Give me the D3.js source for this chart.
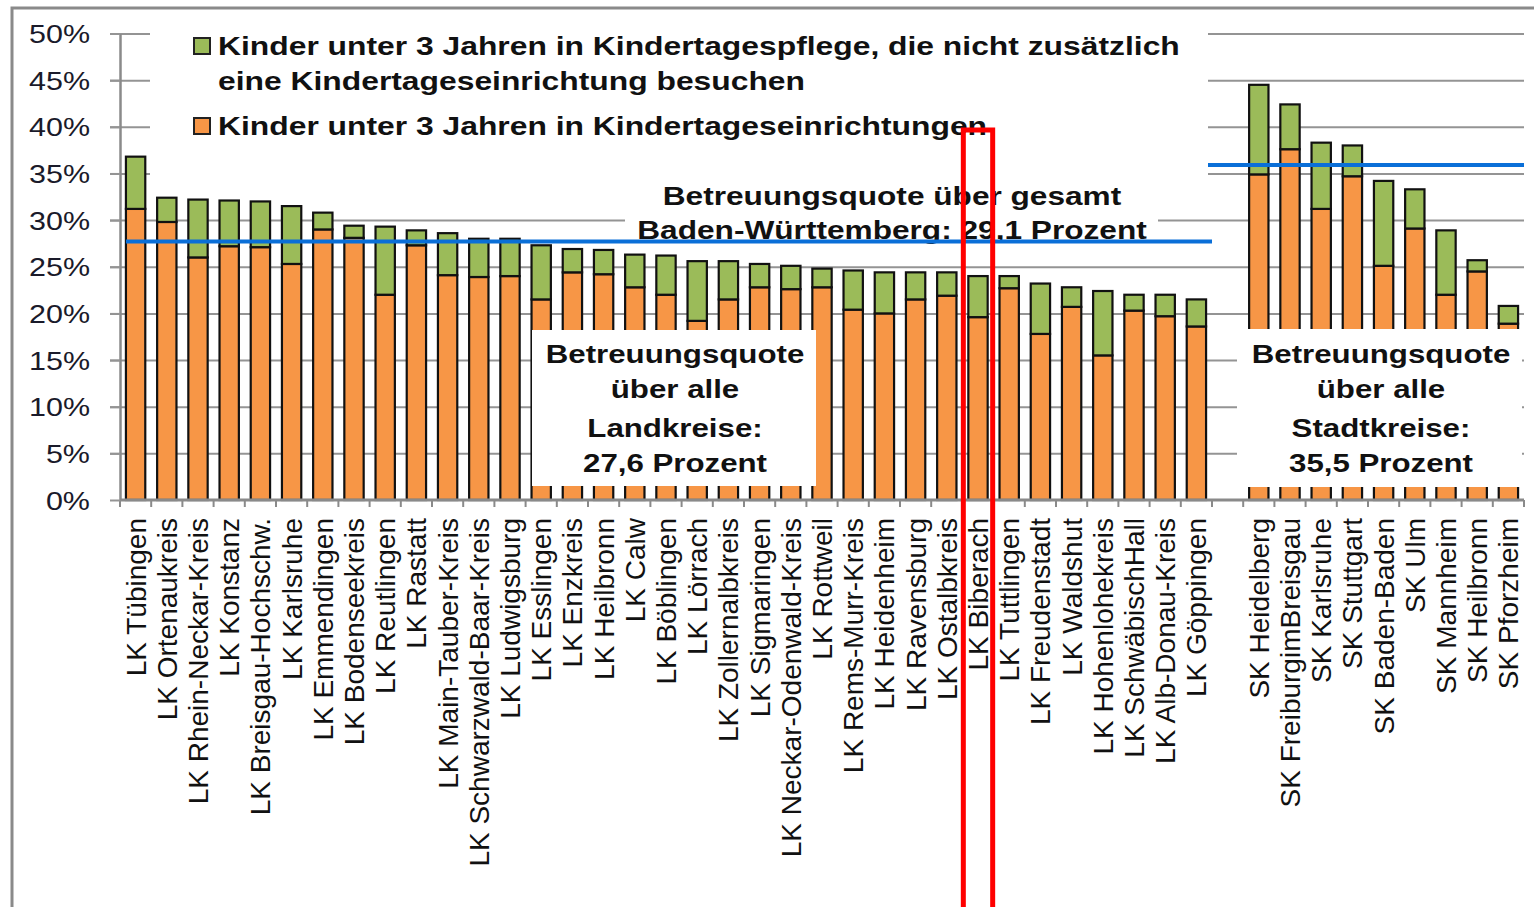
<!DOCTYPE html>
<html>
<head>
<meta charset="utf-8">
<script src="https://d3js.org/d3.v7.min.js"></script>
<style>
  body { margin: 0; background: #fff; }
  svg { display: block; font-family: "Liberation Sans", Arial, sans-serif; }
</style>
</head>
<body>
<svg id="chart" width="1534" height="907"></svg>
<script>
// Landkreise (LK) and Stadtkreise (SK)
var lkNames = ['LK Tübingen', 'LK Ortenaukreis', 'LK Rhein-Neckar-Kreis', 'LK Konstanz',
  'LK Breisgau-Hochschw.', 'LK Karlsruhe', 'LK Emmendingen', 'LK Bodenseekreis',
  'LK Reutlingen', 'LK Rastatt', 'LK Main-Tauber-Kreis', 'LK Schwarzwald-Baar-Kreis',
  'LK Ludwigsburg', 'LK Esslingen', 'LK Enzkreis', 'LK Heilbronn', 'LK Calw',
  'LK Böblingen', 'LK Lörrach', 'LK Zollernalbkreis', 'LK Sigmaringen',
  'LK Neckar-Odenwald-Kreis', 'LK Rottweil', 'LK Rems-Murr-Kreis', 'LK Heidenheim',
  'LK Ravensburg', 'LK Ostalbkreis', 'LK Biberach', 'LK Tuttlingen', 'LK Freudenstadt',
  'LK Waldshut', 'LK Hohenlohekreis', 'LK SchwäbischHall', 'LK Alb-Donau-Kreis',
  'LK Göppingen'];
var skNames = ['SK Heidelberg', 'SK FreiburgimBreisgau', 'SK Karlsruhe', 'SK Stuttgart',
  'SK Baden-Baden', 'SK Ulm', 'SK Mannheim', 'SK Heilbronn', 'SK Pforzheim'];

// Kinder unter 3 in Kindertageseinrichtungen (%)
var lkEinrichtung = [31.2, 29.8, 26.0, 27.2, 27.1, 25.3, 29.0, 28.1, 22.0, 27.3, 24.1, 23.9,
  24.0, 21.5, 24.4, 24.2, 22.8, 22.0, 19.2, 21.5, 22.8, 22.6, 22.8, 20.4, 20.0, 21.5, 21.9,
  19.6, 22.7, 17.8, 20.7, 15.5, 20.3, 19.7, 18.6];
// Kinder unter 3 nur in Kindertagespflege (%)
var lkPflege = [5.6, 2.6, 6.2, 4.9, 4.9, 6.2, 1.8, 1.3, 7.3, 1.6, 4.5, 4.1,
  4.0, 5.8, 2.5, 2.6, 3.5, 4.2, 6.4, 4.1, 2.5, 2.5, 2.0, 4.2, 4.4, 2.9, 2.5,
  4.4, 1.3, 5.4, 2.1, 6.9, 1.7, 2.3, 2.9];
var skEinrichtung = [34.9, 37.6, 31.2, 34.7, 25.1, 29.1, 22.0, 24.5, 18.9];
var skPflege = [9.6, 4.8, 7.1, 3.3, 9.1, 4.2, 6.9, 1.2, 1.9];

var yTicks = [0, 5, 10, 15, 20, 25, 30, 35, 40, 45, 50];
var legendLabels = [
  ['Kinder unter 3 Jahren in Kindertagespflege, die nicht zusätzlich',
   'eine Kindertageseinrichtung besuchen'],
  ['Kinder unter 3 Jahren in Kindertageseinrichtungen']
];
var gesamtLabel = ['Betreuungsquote über gesamt', 'Baden-Württemberg: 29,1 Prozent'];
var lkLabel = ['Betreuungsquote', 'über alle', 'Landkreise:', '27,6 Prozent'];
var skLabel = ['Betreuungsquote', 'über alle', 'Stadtkreise:', '35,5 Prozent'];
// drawn average lines (where the blue lines sit in the picture)
var lkAvgLine = 27.7;
var skAvgLine = 35.9;
var highlighted = 'LK Biberach';

var GAP = ' ';
var categories = lkNames.concat([GAP], skNames);

var rows = [];
lkNames.forEach(function (n, i) { rows.push({name: n, a: lkEinrichtung[i], b: lkPflege[i]}); });
skNames.forEach(function (n, i) { rows.push({name: n, a: skEinrichtung[i], b: skPflege[i]}); });

var colors = {orange: '#f79646', green: '#9bbb59', grid: '#949494', blue: '#0a6fd8', text: '#111'};

var svg = d3.select('#chart');
var plotLeft = 120, plotRight = 1524, plotTop = 33.5, plotBottom = 500;

var x = d3.scaleBand().domain(categories).range([plotLeft, plotRight]).paddingInner(0.38).paddingOuter(0.19);
var y = d3.scaleLinear().domain([0, 50]).range([plotBottom, plotTop]);

// frame
svg.append('path')
  .attr('d', 'M12,907V8H1534')
  .attr('fill', 'none').attr('stroke', '#8a8a8a').attr('stroke-width', 3);

// gridlines
var grid = svg.append('g')
  .attr('transform', 'translate(' + plotLeft + ',0)')
  .call(d3.axisLeft(y).tickValues(yTicks.slice(1)).tickSize(-(plotRight - plotLeft)).tickFormat(''));
grid.select('.domain').remove();
grid.selectAll('line').attr('x1', -10).attr('stroke', colors.grid).attr('stroke-width', 2);

// stacked bars
var barG = svg.append('g');
var bars = barG.selectAll('g').data(rows).enter().append('g');
bars.append('rect')
  .attr('x', function (d) { return x(d.name); })
  .attr('width', x.bandwidth())
  .attr('y', function (d) { return y(d.a); })
  .attr('height', function (d) { return y(0) - y(d.a); })
  .attr('fill', colors.orange).attr('stroke', '#111').attr('stroke-width', 2.2);
bars.append('rect')
  .attr('x', function (d) { return x(d.name); })
  .attr('width', x.bandwidth())
  .attr('y', function (d) { return y(d.a + d.b); })
  .attr('height', function (d) { return y(d.a) - y(d.a + d.b); })
  .attr('fill', colors.green).attr('stroke', '#111').attr('stroke-width', 2.2);

// white label boxes that cover the grid and bars
function whiteBox(x0, y0, x1, y1) {
  svg.append('rect').attr('x', x0).attr('y', y0).attr('width', x1 - x0).attr('height', y1 - y0)
    .attr('fill', '#fff');
}
whiteBox(150, 16, 1208, 186);
whiteBox(625, 186, 1158, 236);
whiteBox(532, 330, 816, 486);
whiteBox(1237, 329, 1522, 487);

// horizontally stretched text, like in the picture
function label(str, tx, ty, size, sx, anchor, weight) {
  svg.append('text')
    .attr('transform', 'translate(' + tx + ',' + ty + ') scale(' + sx + ',1)')
    .attr('text-anchor', anchor)
    .attr('font-size', size)
    .attr('font-weight', weight)
    .attr('fill', colors.text)
    .text(str);
}

// legend
var legendY = [[55, 90], [135]];
var legendColors = [colors.green, colors.orange];
legendLabels.forEach(function (lines, i) {
  svg.append('rect').attr('x', 194).attr('y', legendY[i][0] - 17).attr('width', 16).attr('height', 16)
    .attr('fill', legendColors[i]).attr('stroke', '#222').attr('stroke-width', 2);
  lines.forEach(function (t, j) { label(t, 218, legendY[i][j], 25, 1.273, 'start', 'bold'); });
});

// text annotations
label(gesamtLabel[0], 892, 205, 25, 1.265, 'middle', 'bold');
label(gesamtLabel[1], 892, 239, 25, 1.265, 'middle', 'bold');
var boxLines = [363, 398, 437, 472];
lkLabel.forEach(function (t, i) { label(t, 675, boxLines[i], 25, 1.25, 'middle', 'bold'); });
skLabel.forEach(function (t, i) { label(t, 1381, boxLines[i], 25, 1.25, 'middle', 'bold'); });

// x axis
var xAxis = svg.append('g')
  .attr('transform', 'translate(0,' + plotBottom + ')')
  .call(d3.axisBottom(x).tickSize(0).tickPadding(0));
xAxis.select('.domain').attr('stroke', '#8a8a8a').attr('stroke-width', 3)
  .attr('d', 'M' + plotLeft + ',0H' + plotRight);
xAxis.selectAll('text')
  .attr('transform', 'rotate(-90)')
  .attr('text-anchor', 'end')
  .attr('x', -18).attr('y', 0).attr('dy', '0.36em')
  .attr('font-size', 28).attr('font-family', '"Liberation Sans", Arial, sans-serif')
  .attr('fill', colors.text);
var gapShift = (x.step() - x.bandwidth()) / 2;
var bounds = categories.map(function (c) { return x(c) - gapShift; }).concat([plotRight]);
xAxis.selectAll('.bound').data(bounds).enter().append('line')
  .attr('x1', function (d) { return d; }).attr('x2', function (d) { return d; })
  .attr('y1', 0).attr('y2', 7)
  .attr('stroke', '#8a8a8a').attr('stroke-width', 2);

// y axis
var yAxis = svg.append('g')
  .attr('transform', 'translate(' + plotLeft + ',0)')
  .call(d3.axisLeft(y).tickValues(yTicks).tickSize(10).tickSizeOuter(0)
    .tickFormat(function (d) { return d + '%'; }));
yAxis.select('.domain').attr('stroke', '#8a8a8a').attr('stroke-width', 2.5);
yAxis.selectAll('line').attr('stroke', colors.grid).attr('stroke-width', 2);
yAxis.selectAll('text')
  .attr('x', -24.6).attr('dy', '0.36em')
  .attr('transform', 'scale(1.22,1)')
  .attr('font-size', 25).attr('font-family', '"Liberation Sans", Arial, sans-serif')
  .attr('fill', '#1a1a2a');

// average lines
var lkStart = x(lkNames[0]);
var lkEnd = x(lkNames[lkNames.length - 1]) + x.bandwidth() + gapShift;
var skStart = x(GAP) - gapShift - 4;
svg.append('line').attr('x1', lkStart).attr('x2', lkEnd)
  .attr('y1', y(lkAvgLine)).attr('y2', y(lkAvgLine))
  .attr('stroke', colors.blue).attr('stroke-width', 4);
svg.append('line').attr('x1', skStart).attr('x2', plotRight)
  .attr('y1', y(skAvgLine)).attr('y2', y(skAvgLine))
  .attr('stroke', colors.blue).attr('stroke-width', 4);

// red highlight around one Landkreis
svg.append('rect')
  .attr('x', x(highlighted) - 5).attr('y', 130)
  .attr('width', x.bandwidth() + 10).attr('height', 800)
  .attr('fill', 'none').attr('stroke', '#ff0000').attr('stroke-width', 5);
</script>
</body>
</html>
